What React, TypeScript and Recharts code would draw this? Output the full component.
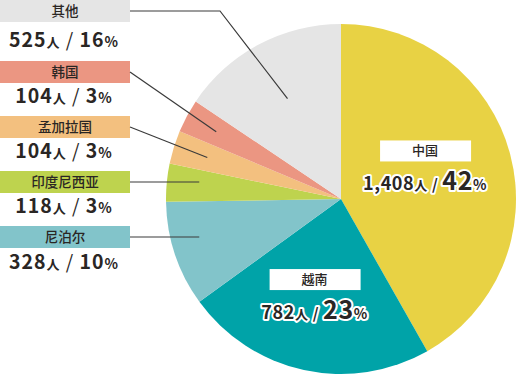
import { PieChart, Pie, Cell } from 'recharts';

// data, in drawing order (clockwise from 12 o'clock)
const countries = ['中国', '越南', '尼泊尔', '印度尼西亚', '孟加拉国', '韩国', '其他'];
const people = [1408, 782, 328, 118, 104, 104, 525];
const shares = [42, 23, 10, 3, 3, 3, 16];
const colors = ['#E8D244', '#00A3A8', '#82C4CA', '#BED34E', '#F3C07F', '#EB9682', '#E5E5E5'];

const FONT = '"Noto Sans CJK JP", "Noto Sans CJK SC", "Noto Sans", sans-serif';
const INK = '#2a2624';
const RAD = Math.PI / 180;

// left-hand legend slots (by data index) and how their leader lines run
const leftSlots: Record<number, { top: number; textY: number; bendX?: number; r?: number; flat?: boolean }> = {
    6: { top: 0, textY: 40, bendX: 220, r: 0.65 },
    5: { top: 61, textY: 96, r: 0.81 },
    4: { top: 116, textY: 151, r: 0.8 },
    3: { top: 171, textY: 206, flat: true },
    2: { top: 226, textY: 262, flat: true },
};

// nudges for the labels placed inside the two big slices
const insideNudge: Record<number, { dx: number; dy: number }> = {
    0: { dx: -9, dy: -8 },
    1: { dx: -6, dy: 2 },
};

const fmt = (n: number) => n.toLocaleString('en-US');

const renderLabel = (props: any) => {
    const { cx, cy, midAngle, outerRadius, index } = props;
    const name = countries[index];
    const count = fmt(people[index]);
    const pct = shares[index];

    if (insideNudge[index]) {
        const r = outerRadius * 0.55;
        const x = cx + r * Math.cos(-midAngle * RAD) + insideNudge[index].dx;
        const y = cy + r * Math.sin(-midAngle * RAD) + insideNudge[index].dy;
        return (
            <g key={`in-${index}`} style={{ fontFamily: FONT }}>
                <rect x={x - 45} y={y - 26} width={91} height={21} fill="#fff" />
                <text x={x} y={y - 11} textAnchor="middle" fontSize={13} fontWeight={500} fill={INK}>
                    {name}
                </text>
                <text
                    x={x}
                    y={y + 24}
                    textAnchor="middle"
                    fill={INK}
                    stroke="#fff"
                    strokeWidth={4}
                    strokeLinejoin="round"
                    paintOrder="stroke"
                    fontWeight={700}
                    letterSpacing={0.6}
                >
                    <tspan fontSize={18}>{count}</tspan>
                    <tspan fontSize={13}>人</tspan>
                    <tspan fontSize={15}> / </tspan>
                    <tspan fontSize={25}>{pct}</tspan>
                    <tspan fontSize={14}>%</tspan>
                </text>
            </g>
        );
    }

    const slot = leftSlots[index];
    if (!slot) return null;
    const lineY = slot.top + 11;
    let px: number;
    let py: number;
    if (slot.flat) {
        px = cx - outerRadius * 0.81;
        py = lineY;
    } else {
        const r = outerRadius * (slot.r ?? 0.8);
        px = cx + r * Math.cos(-midAngle * RAD);
        py = cy + r * Math.sin(-midAngle * RAD);
    }
    const pts = slot.bendX
        ? `130,${lineY} ${slot.bendX},${lineY} ${px},${py}`
        : `130,${lineY} ${px},${py}`;

    return (
        <g key={`out-${index}`} style={{ fontFamily: FONT }}>
            <rect x={0} y={slot.top} width={130} height={22} fill={colors[index]} />
            <text x={65} y={slot.top + 16} textAnchor="middle" fontSize={13.5} fontWeight={500} fill={INK}>
                {name}
            </text>
            <polyline points={pts} fill="none" stroke="#3a3a3a" strokeWidth={1.2} />
            <text x={64} y={slot.textY + 7} textAnchor="middle" fill={INK} fontWeight={700} letterSpacing={1}>
                <tspan fontSize={19.5}>{count}</tspan>
                <tspan fontSize={13}>人</tspan>
                <tspan fontSize={19} fontWeight={400}> / </tspan>
                <tspan fontSize={19.5}>{pct}</tspan>
                <tspan fontSize={14}>%</tspan>
            </text>
        </g>
    );
};

export default function App() {
    const chartData = countries.map((name, i) => ({ name, value: people[i] }));

    return (
        <div style={{ position: 'absolute', left: 0, top: 0 }}>
            <PieChart width={516} height={375} margin={{ top: 0, right: 0, bottom: 0, left: 0 }}>
                <Pie
                    data={chartData}
                    dataKey="value"
                    nameKey="name"
                    cx={341}
                    cy={199}
                    outerRadius={175}
                    startAngle={90}
                    endAngle={-270}
                    stroke="none"
                    label={renderLabel}
                    labelLine={false}
                    isAnimationActive={false}
                >
                    {chartData.map((_, i) => (
                        <Cell key={i} fill={colors[i]} />
                    ))}
                </Pie>
            </PieChart>
        </div>
    );
}
